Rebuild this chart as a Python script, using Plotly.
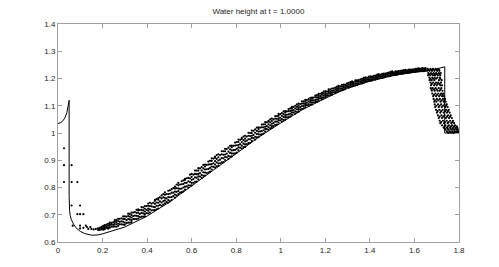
import plotly.graph_objects as go

title_text = "Water height at t = 1.0000"

x_ticks = [0, 0.2, 0.4, 0.6, 0.8, 1.0, 1.2, 1.4, 1.6, 1.8]
x_tick_labels = ["0", "0.2", "0.4", "0.6", "0.8", "1", "1.2", "1.4", "1.6", "1.8"]
y_ticks = [0.6, 0.7, 0.8, 0.9, 1.0, 1.1, 1.2, 1.3, 1.4]
y_tick_labels = ["0.6", "0.7", "0.8", "0.9", "1", "1.1", "1.2", "1.3", "1.4"]

# exact solution (solid line)
line_x = [0, 0.01, 0.02, 0.03, 0.04, 0.045, 0.05, 0.05, 0.0505, 0.052, 0.055, 0.06, 0.07,
          0.08, 0.1, 0.12, 0.15, 0.18, 0.2, 0.25, 0.3, 0.35, 0.4, 0.45, 0.5, 0.55, 0.6,
          0.65, 0.7, 0.75, 0.8, 0.85, 0.9, 0.95, 1.0, 1.05, 1.1, 1.15, 1.2, 1.25, 1.3,
          1.35, 1.4, 1.45, 1.5, 1.55, 1.6, 1.65, 1.7, 1.736, 1.736, 1.8]
line_y = [1.035, 1.037, 1.043, 1.054, 1.075, 1.093, 1.12, 0.77, 0.735, 0.715, 0.697, 0.682,
          0.665, 0.653, 0.639, 0.631, 0.625, 0.626, 0.630, 0.642, 0.655, 0.675, 0.695,
          0.721, 0.746, 0.776, 0.806, 0.836, 0.866, 0.895, 0.924, 0.954, 0.984, 1.011,
          1.038, 1.062, 1.087, 1.108, 1.129, 1.147, 1.164, 1.177, 1.190, 1.200, 1.210,
          1.217, 1.223, 1.227, 1.235, 1.243, 1.0, 1.0]

# isolated particles near the left boundary
sparse_x = [0.027, 0.027, 0.061, 0.027, 0.061, 0.087, 0.061, 0.099, 0.087, 0.099, 0.114,
            0.066, 0.099, 0.099, 0.114, 0.13, 0.136, 0.15, 0.16, 0.17, 0.125, 0.145]
sparse_y = [0.944, 0.882, 0.882, 0.82, 0.82, 0.82, 0.734, 0.734, 0.702, 0.702, 0.702,
            0.66, 0.66, 0.65, 0.652, 0.655, 0.648, 0.648, 0.646, 0.648, 0.66, 0.655]

# particle band, first set of columns
band_x = [0.180, 0.195, 0.210, 0.225, 0.240, 0.255, 0.270, 0.285, 0.300, 0.315, 0.330,
          0.345, 0.360, 0.375, 0.390, 0.405, 0.420, 0.435, 0.450, 0.465, 0.480, 0.495,
          0.510, 0.525, 0.540, 0.555, 0.570, 0.585, 0.600, 0.615, 0.630, 0.645, 0.660,
          0.675, 0.690, 0.705, 0.720, 0.735, 0.750, 0.765, 0.780, 0.795, 0.810, 0.825,
          0.840, 0.855, 0.870, 0.885, 0.900, 0.915, 0.930, 0.945, 0.960, 0.975, 0.990,
          1.005, 1.020, 1.035, 1.050, 1.065, 1.080, 1.095, 1.110, 1.125, 1.140, 1.155,
          1.170, 1.185, 1.200, 1.215, 1.230, 1.245, 1.260, 1.275, 1.290, 1.305, 1.320,
          1.335, 1.350, 1.365, 1.380, 1.395, 1.410, 1.425, 1.440, 1.455, 1.470, 1.485,
          1.500, 1.515, 1.530, 1.545, 1.560, 1.575, 1.590, 1.605, 1.620, 1.635, 1.650]
band_y = [
    [0.644, 0.650], [0.646, 0.651, 0.656], [0.647, 0.652, 0.658, 0.662],
    [0.649, 0.654, 0.661, 0.667], [0.656, 0.664, 0.670], [0.657, 0.666, 0.674, 0.680],
    [0.659, 0.667, 0.677, 0.685], [0.665, 0.676, 0.687], [0.663, 0.671, 0.684, 0.694],
    [0.671, 0.684, 0.695, 0.704], [0.673, 0.680, 0.690, 0.699, 0.708], [0.684, 0.697, 0.710],
    [0.686, 0.695, 0.707, 0.716, 0.720], [0.693, 0.707, 0.718, 0.728],
    [0.694, 0.702, 0.712, 0.722, 0.732], [0.705, 0.715, 0.723, 0.733, 0.741],
    [0.716, 0.731, 0.741], [0.717, 0.728, 0.740, 0.751, 0.755],
    [0.723, 0.733, 0.744, 0.755, 0.761], [0.733, 0.745, 0.760, 0.771],
    [0.742, 0.753, 0.762, 0.773, 0.782], [0.745, 0.754, 0.765, 0.776, 0.788],
    [0.754, 0.765, 0.781, 0.794], [0.763, 0.774, 0.785, 0.796, 0.803],
    [0.776, 0.787, 0.796, 0.808, 0.817], [0.783, 0.796, 0.812, 0.823],
    [0.792, 0.803, 0.817, 0.828, 0.832], [0.799, 0.808, 0.823, 0.835],
    [0.808, 0.817, 0.828, 0.839, 0.850], [0.821, 0.837, 0.850, 0.862],
    [0.830, 0.841, 0.850, 0.862, 0.871], [0.835, 0.846, 0.862, 0.875],
    [0.844, 0.855, 0.866, 0.877, 0.884], [0.855, 0.868, 0.884, 0.895],
    [0.866, 0.877, 0.886, 0.898, 0.907], [0.873, 0.884, 0.897, 0.909, 0.913],
    [0.879, 0.888, 0.899, 0.911, 0.922], [0.892, 0.908, 0.922, 0.933],
    [0.901, 0.912, 0.921, 0.933, 0.942], [0.905, 0.916, 0.932, 0.946],
    [0.914, 0.925, 0.936, 0.948, 0.954], [0.925, 0.938, 0.954, 0.965],
    [0.936, 0.947, 0.956, 0.967, 0.976], [0.943, 0.954, 0.967, 0.978, 0.982],
    [0.949, 0.958, 0.969, 0.979, 0.990], [0.963, 0.977, 0.990, 1.001],
    [0.971, 0.982, 0.990, 1.000, 1.009], [0.976, 0.986, 1.001, 1.013],
    [0.985, 0.995, 1.005, 1.015, 1.021], [0.995, 1.007, 1.021, 1.031],
    [1.005, 1.015, 1.023, 1.032, 1.040], [1.011, 1.021, 1.032, 1.042, 1.045],
    [1.018, 1.025, 1.034, 1.044, 1.053], [1.030, 1.042, 1.053, 1.062],
    [1.038, 1.047, 1.054, 1.063, 1.070], [1.042, 1.051, 1.063, 1.073],
    [1.049, 1.058, 1.066, 1.075, 1.080], [1.058, 1.068, 1.080, 1.088],
    [1.067, 1.075, 1.082, 1.090, 1.096], [1.071, 1.079, 1.090, 1.100],
    [1.078, 1.085, 1.092, 1.100, 1.108], [1.089, 1.099, 1.108, 1.116],
    [1.095, 1.103, 1.109, 1.116, 1.122], [1.099, 1.106, 1.116, 1.125],
    [1.105, 1.112, 1.119, 1.126, 1.130], [1.113, 1.121, 1.131, 1.137],
    [1.120, 1.127, 1.132, 1.139, 1.144], [1.124, 1.131, 1.140, 1.147],
    [1.131, 1.136, 1.142, 1.148, 1.154], [1.138, 1.147, 1.154, 1.160],
    [1.141, 1.148, 1.155, 1.163], [1.146, 1.152, 1.160, 1.167],
    [1.153, 1.161, 1.168, 1.173], [1.157, 1.164, 1.171, 1.177],
    [1.162, 1.166, 1.173, 1.178], [1.166, 1.171, 1.178, 1.184],
    [1.172, 1.179, 1.185, 1.190], [1.175, 1.181, 1.188, 1.193],
    [1.181, 1.188, 1.194], [1.182, 1.187, 1.193, 1.199],
    [1.188, 1.194, 1.200, 1.204], [1.191, 1.196, 1.202, 1.207],
    [1.193, 1.197, 1.203, 1.207], [1.196, 1.200, 1.206, 1.211],
    [1.200, 1.206, 1.211, 1.216], [1.202, 1.207, 1.213, 1.217],
    [1.207, 1.213, 1.218], [1.208, 1.211, 1.217, 1.222],
    [1.212, 1.217, 1.222, 1.226], [1.213, 1.218, 1.223, 1.226],
    [1.217, 1.222, 1.227], [1.217, 1.220, 1.225, 1.229],
    [1.220, 1.225, 1.229, 1.232], [1.221, 1.225, 1.230, 1.233],
    [1.223, 1.225, 1.229, 1.233], [1.224, 1.227, 1.232, 1.235],
    [1.226, 1.231, 1.234, 1.237], [1.227, 1.230, 1.235, 1.238],
    [1.228, 1.233, 1.238],
]

# particle band, second set of columns (between the first ones)
band2_x = [0.1875, 0.2025, 0.2175, 0.2325, 0.2475, 0.2625, 0.2775, 0.2925, 0.3075, 0.3225,
           0.3375, 0.3525, 0.3675, 0.3825, 0.3975, 0.4125, 0.4275, 0.4425, 0.4575, 0.4725,
           0.4875, 0.5025, 0.5175, 0.5325, 0.5475, 0.5625, 0.5775, 0.5925, 0.6075, 0.6225,
           0.6375, 0.6525, 0.6675, 0.6825, 0.6975, 0.7125, 0.7275, 0.7425, 0.7575, 0.7725,
           0.7875, 0.8025, 0.8175, 0.8325, 0.8475, 0.8625, 0.8775, 0.8925, 0.9075, 0.9225,
           0.9375, 0.9525, 0.9675, 0.9825, 0.9975, 1.0125, 1.0275, 1.0425, 1.0575, 1.0725,
           1.0875, 1.1025, 1.1175, 1.1325, 1.1475, 1.1625, 1.1775, 1.1925, 1.2075, 1.2225,
           1.2375, 1.2525, 1.2675, 1.2825, 1.2975, 1.3125, 1.3275, 1.3425, 1.3575, 1.3725,
           1.3875, 1.4025, 1.4175, 1.4325, 1.4475, 1.4625, 1.4775, 1.4925, 1.5075, 1.5225,
           1.5375, 1.5525, 1.5675, 1.5825, 1.5975, 1.6125, 1.6275, 1.6425]
band2_y = [
    [0.644, 0.648, 0.652], [0.645, 0.650, 0.655, 0.659], [0.652, 0.657, 0.664],
    [0.652, 0.659, 0.665, 0.671], [0.656, 0.663, 0.672], [0.656, 0.665, 0.673, 0.681],
    [0.665, 0.674, 0.685], [0.664, 0.674, 0.684, 0.694], [0.669, 0.680, 0.693],
    [0.671, 0.683, 0.693, 0.703], [0.684, 0.695, 0.708], [0.684, 0.696, 0.707, 0.718],
    [0.691, 0.703, 0.717], [0.693, 0.705, 0.716, 0.727], [0.706, 0.718, 0.732],
    [0.708, 0.720, 0.732, 0.744], [0.717, 0.729, 0.744], [0.720, 0.733, 0.745, 0.757],
    [0.736, 0.749, 0.764], [0.737, 0.750, 0.764, 0.776], [0.747, 0.760, 0.776],
    [0.750, 0.764, 0.777, 0.790], [0.768, 0.781, 0.798], [0.771, 0.784, 0.798, 0.811],
    [0.781, 0.795, 0.811], [0.786, 0.800, 0.813, 0.826], [0.804, 0.817, 0.834],
    [0.807, 0.820, 0.834, 0.847], [0.817, 0.831, 0.847], [0.822, 0.836, 0.849, 0.862],
    [0.840, 0.853, 0.870], [0.843, 0.856, 0.870, 0.883], [0.853, 0.867, 0.883],
    [0.858, 0.872, 0.885, 0.898], [0.876, 0.889, 0.906], [0.878, 0.892, 0.905, 0.919],
    [0.889, 0.902, 0.919], [0.893, 0.907, 0.920, 0.933], [0.911, 0.924, 0.941],
    [0.913, 0.927, 0.940, 0.953], [0.924, 0.937, 0.953], [0.928, 0.942, 0.955, 0.967],
    [0.946, 0.959, 0.975], [0.948, 0.961, 0.974, 0.987], [0.959, 0.972, 0.987],
    [0.964, 0.977, 0.989, 1.000], [0.981, 0.993, 1.008], [0.984, 0.996, 1.008, 1.020],
    [0.994, 1.006, 1.020], [0.998, 1.010, 1.021, 1.032], [1.014, 1.025, 1.039],
    [1.017, 1.028, 1.039, 1.050], [1.026, 1.037, 1.050], [1.031, 1.042, 1.052, 1.062],
    [1.046, 1.056, 1.069], [1.048, 1.059, 1.069, 1.079], [1.057, 1.067, 1.079],
    [1.061, 1.071, 1.081, 1.090], [1.075, 1.084, 1.096], [1.077, 1.087, 1.096, 1.105],
    [1.086, 1.095, 1.106], [1.090, 1.099, 1.108, 1.116], [1.102, 1.111, 1.121],
    [1.104, 1.113, 1.121, 1.129], [1.112, 1.120, 1.130], [1.115, 1.123, 1.131, 1.139],
    [1.127, 1.135, 1.144], [1.129, 1.137, 1.145, 1.152], [1.136, 1.143, 1.152],
    [1.139, 1.146, 1.153, 1.160], [1.149, 1.156, 1.164], [1.150, 1.157, 1.164, 1.170],
    [1.156, 1.163, 1.171], [1.159, 1.166, 1.172, 1.178], [1.169, 1.175, 1.182],
    [1.170, 1.176, 1.182, 1.187], [1.174, 1.180, 1.187], [1.176, 1.182, 1.188, 1.193],
    [1.184, 1.190, 1.197], [1.185, 1.191, 1.196, 1.202], [1.190, 1.195, 1.202],
    [1.192, 1.197, 1.203, 1.208], [1.198, 1.204, 1.210], [1.199, 1.204, 1.209, 1.214],
    [1.202, 1.207, 1.213], [1.204, 1.209, 1.213, 1.218], [1.210, 1.214, 1.220],
    [1.210, 1.215, 1.219, 1.224], [1.213, 1.218, 1.223], [1.214, 1.218, 1.222, 1.226],
    [1.219, 1.223, 1.228], [1.219, 1.223, 1.227, 1.231], [1.221, 1.225, 1.230],
    [1.222, 1.226, 1.229, 1.233], [1.226, 1.230, 1.234], [1.226, 1.229, 1.233, 1.236],
    [1.227, 1.231, 1.235], [1.227, 1.231, 1.234, 1.237],
]

# particles in the falling front (rows of particles)
front_y = [1.235, 1.231, 1.228, 1.220, 1.216, 1.212, 1.203, 1.199, 1.194, 1.185, 1.180,
           1.175, 1.165, 1.160, 1.155, 1.145, 1.140, 1.135, 1.125, 1.120, 1.115, 1.105,
           1.100, 1.095, 1.085, 1.080, 1.075, 1.065, 1.060, 1.055, 1.045, 1.040, 1.036,
           1.028, 1.024, 1.020, 1.016, 1.012, 1.006, 1.003, 1.001]
front_x = [
    [1.660, 1.672, 1.683, 1.695, 1.706], [1.664, 1.677, 1.689, 1.700, 1.711],
    [1.657, 1.668, 1.679, 1.690, 1.702, 1.712],
    [1.662, 1.674, 1.686, 1.697, 1.709, 1.718], [1.666, 1.679, 1.691, 1.701, 1.713],
    [1.661, 1.671, 1.684, 1.693, 1.705, 1.716],
    [1.667, 1.680, 1.691, 1.703, 1.714], [1.671, 1.684, 1.697, 1.716],
    [1.668, 1.677, 1.689, 1.710, 1.722],
    [1.672, 1.684, 1.697, 1.707, 1.719], [1.678, 1.692, 1.704, 1.713],
    [1.674, 1.688, 1.700, 1.716, 1.724],
    [1.673, 1.682, 1.695, 1.709, 1.721], [1.677, 1.688, 1.700, 1.717],
    [1.678, 1.691, 1.704, 1.713, 1.726],
    [1.680, 1.694, 1.707, 1.720, 1.729], [1.688, 1.702, 1.716, 1.727],
    [1.684, 1.697, 1.711, 1.724, 1.733],
    [1.686, 1.701, 1.714, 1.728, 1.737], [1.693, 1.707, 1.722, 1.734],
    [1.689, 1.699, 1.717, 1.731, 1.740],
    [1.691, 1.706, 1.720, 1.735, 1.745], [1.698, 1.713, 1.729, 1.742],
    [1.693, 1.709, 1.723, 1.738, 1.749],
    [1.697, 1.712, 1.727, 1.742, 1.754], [1.704, 1.720, 1.737, 1.750],
    [1.701, 1.716, 1.731, 1.746, 1.758],
    [1.705, 1.721, 1.735, 1.751, 1.763], [1.713, 1.729, 1.746, 1.760],
    [1.709, 1.724, 1.741, 1.755, 1.768],
    [1.713, 1.728, 1.745, 1.760, 1.773], [1.720, 1.737, 1.753, 1.770],
    [1.716, 1.733, 1.749, 1.765, 1.778],
    [1.724, 1.739, 1.755, 1.769, 1.782], [1.735, 1.750, 1.764, 1.778, 1.790],
    [1.731, 1.746, 1.760, 1.774, 1.786, 1.792],
    [1.736, 1.749, 1.762, 1.772, 1.784, 1.793],
    [1.740, 1.753, 1.766, 1.778, 1.789, 1.795],
    [1.746, 1.758, 1.771, 1.782, 1.791, 1.797],
    [1.749, 1.761, 1.771, 1.781, 1.790, 1.796],
    [1.752, 1.765, 1.776, 1.786, 1.794, 1.799],
]

px, py = list(sparse_x), list(sparse_y)
for cols_x, cols_y in ((band_x, band_y), (band2_x, band2_y)):
    for xc, ys in zip(cols_x, cols_y):
        for yv in ys:
            px.append(xc)
            py.append(yv)
for yr, xs in zip(front_y, front_x):
    for xv in xs:
        px.append(xv)
        py.append(yr)

fig = go.Figure()
fig.add_trace(go.Scatter(x=line_x, y=line_y, mode="lines",
                         line=dict(color="black", width=1), hoverinfo="skip"))
fig.add_trace(go.Scatter(x=px, y=py, mode="markers",
                         marker=dict(color="black", size=2.2, line=dict(width=0)),
                         hoverinfo="skip"))

axis_common = dict(showgrid=False, zeroline=False, showline=True, linecolor="#a0a0a0",
                   linewidth=1, mirror="ticks", ticks="inside", ticklen=4,
                   tickcolor="#a0a0a0", tickfont=dict(family="Liberation Sans, Arial",
                                                     size=8, color="#262626"))
fig.update_xaxes(range=[0, 1.8], tickvals=x_ticks, ticktext=x_tick_labels, **axis_common)
fig.update_yaxes(range=[0.6, 1.4], tickvals=y_ticks, ticktext=y_tick_labels, **axis_common)

# the page body adds an 8px margin, so the figure is 8px smaller and shifted
fig.update_layout(
    width=491, height=259,
    margin=dict(l=50, r=40, t=13, b=21),
    paper_bgcolor="white", plot_bgcolor="white",
    showlegend=False,
    title=dict(text=title_text, x=0.51, xanchor="center", y=0.986, yanchor="middle",
               font=dict(family="Liberation Sans, Arial", size=8, color="#262626")),
)

fig.write_html("out.html")
